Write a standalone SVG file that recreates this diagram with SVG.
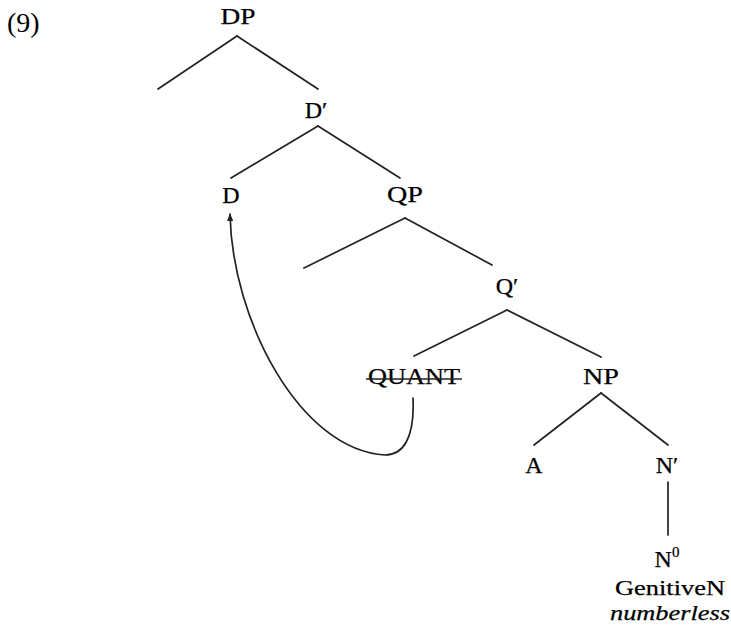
<svg xmlns="http://www.w3.org/2000/svg" width="731" height="628" viewBox="0 0 731 628">
<defs>
<style>
.lbl{font-family:"Liberation Serif","Times New Roman",serif;font-size:24px;fill:#000;text-anchor:middle;stroke:#000;stroke-width:0.25}
.sm{font-size:22px}
.num{font-family:"Liberation Serif","Times New Roman",serif;font-size:28px;fill:#000}
.edge{stroke:#222;stroke-width:1.7;fill:none;stroke-linecap:round}
</style>
<marker id="arr" viewBox="0 0 10 10" refX="9" refY="5" markerWidth="8" markerHeight="8" orient="auto" markerUnits="userSpaceOnUse">
<path d="M0,1 L10,5 L0,9 Z" fill="#222"/>
</marker>
</defs>
<rect width="731" height="628" fill="#fff"/>
<text class="num" x="7" y="32">(9)</text>
<g id="connectors">
<line class="edge" x1="237" y1="36" x2="158" y2="89"/>
<line class="edge" x1="237" y1="36" x2="318" y2="89"/>
<line class="edge" x1="318" y1="126" x2="231" y2="178"/>
<line class="edge" x1="318" y1="126" x2="400" y2="178"/>
<line class="edge" x1="405" y1="218" x2="304" y2="268"/>
<line class="edge" x1="405" y1="218" x2="492" y2="265"/>
<line class="edge" x1="507" y1="310" x2="414" y2="356"/>
<line class="edge" x1="507" y1="310" x2="601" y2="357"/>
<line class="edge" x1="601" y1="393" x2="534" y2="445"/>
<line class="edge" x1="601" y1="393" x2="668" y2="445"/>
<line class="edge" x1="668" y1="482" x2="668" y2="535"/>
<path class="edge" d="M413,398 C415,440 402,455 385,455 C300,450 232,320 230,214" marker-end="url(#arr)"/>
</g>
<g id="DP"><text class="lbl" x="238" y="24" textLength="35" lengthAdjust="spacingAndGlyphs">DP</text></g>
<g id="Dbar"><text class="lbl" x="316" y="118">D′</text></g>
<g id="D"><text class="lbl" x="231" y="203">D</text></g>
<g id="QP"><text class="lbl" x="405" y="202" textLength="36" lengthAdjust="spacingAndGlyphs">QP</text></g>
<g id="Qbar"><text class="lbl" x="507" y="294">Q′</text></g>
<g id="QUANT"><text class="lbl" x="414" y="384" textLength="92" lengthAdjust="spacingAndGlyphs">QUANT</text>
<line x1="366" y1="379" x2="462" y2="379" stroke="#222" stroke-width="1.5"/></g>
<g id="NP"><text class="lbl" x="601" y="384" textLength="36" lengthAdjust="spacingAndGlyphs">NP</text></g>
<g id="A"><text class="lbl" x="534" y="473">A</text></g>
<g id="Nbar"><text class="lbl" x="667" y="473">N′</text></g>
<g id="N0"><text class="lbl" x="667" y="567">N<tspan font-size="15" dy="-10">0</tspan></text>
<text class="lbl sm" x="670" y="595" textLength="110" lengthAdjust="spacingAndGlyphs">GenitiveN</text>
<text class="lbl sm" x="670" y="620" font-style="italic" textLength="120" lengthAdjust="spacingAndGlyphs">numberless</text></g>
</svg>
